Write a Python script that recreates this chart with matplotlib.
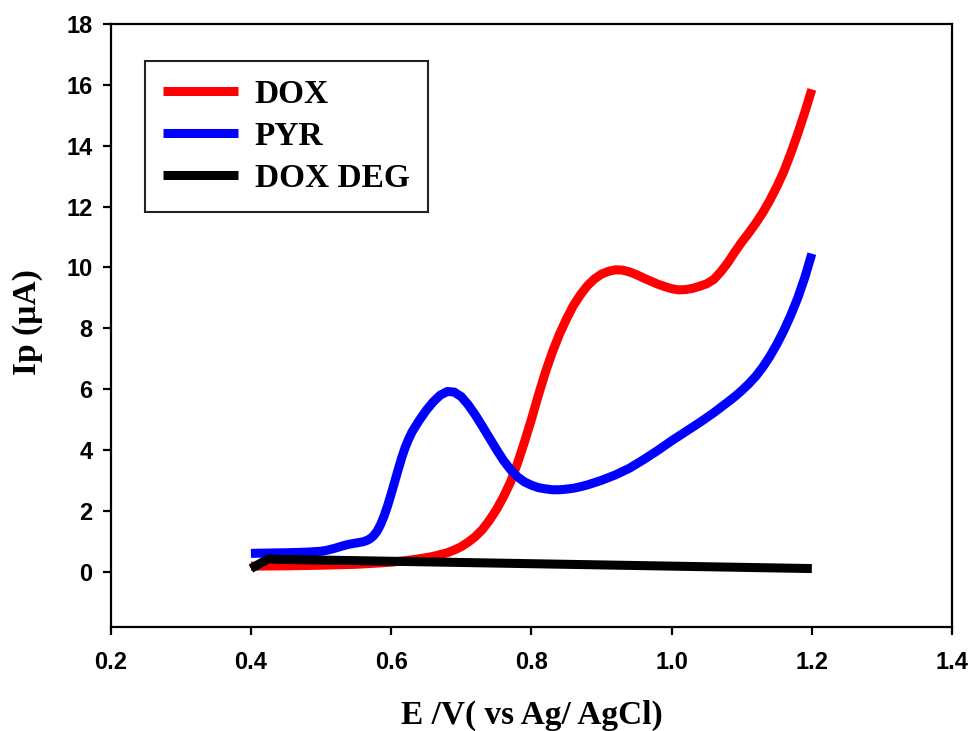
import matplotlib
matplotlib.use("Agg")
from matplotlib import pyplot as plt

# DOX oxidation curve
dox_E = [0.40, 0.45, 0.50, 0.55, 0.58, 0.60, 0.62, 0.64, 0.66, 0.68, 0.69, 0.70,
         0.71, 0.72, 0.73, 0.74, 0.75, 0.76, 0.77, 0.78, 0.79, 0.80, 0.81, 0.82,
         0.83, 0.84, 0.85, 0.86, 0.87, 0.88, 0.89, 0.90, 0.91, 0.92, 0.93, 0.94,
         0.95, 0.96, 0.97, 0.98, 0.99, 1.00, 1.01, 1.02, 1.03, 1.04, 1.05, 1.06,
         1.07, 1.08, 1.09, 1.10, 1.11, 1.12, 1.13, 1.14, 1.15, 1.16, 1.17, 1.18,
         1.19, 1.20]
dox_I = [0.18, 0.19, 0.21, 0.24, 0.28, 0.31, 0.36, 0.42, 0.50, 0.62, 0.71, 0.82,
         0.97, 1.15, 1.38, 1.68, 2.03, 2.45, 2.93, 3.55, 4.25, 5.00, 5.80, 6.55,
         7.22, 7.80, 8.30, 8.75, 9.10, 9.40, 9.62, 9.78, 9.87, 9.92, 9.91, 9.85,
         9.76, 9.65, 9.55, 9.45, 9.37, 9.30, 9.26, 9.27, 9.31, 9.38, 9.46, 9.60,
         9.85, 10.15, 10.50, 10.83, 11.13, 11.45, 11.80, 12.20, 12.65, 13.15, 13.75, 14.40,
         15.10, 15.85]

# PYR curve
pyr_E = [0.40, 0.45, 0.48, 0.50, 0.51, 0.52, 0.53, 0.54, 0.55, 0.56, 0.565, 0.57,
         0.575, 0.58, 0.585, 0.59, 0.595, 0.60, 0.605, 0.61, 0.615, 0.62, 0.625, 0.63,
         0.64, 0.65, 0.66, 0.67, 0.68, 0.69, 0.70, 0.71, 0.72, 0.73, 0.74, 0.75,
         0.76, 0.77, 0.78, 0.79, 0.80, 0.81, 0.82, 0.83, 0.84, 0.85, 0.86, 0.87,
         0.88, 0.90, 0.92, 0.94, 0.96, 0.98, 1.00, 1.02, 1.04, 1.06, 1.08, 1.09,
         1.10, 1.11, 1.12, 1.13, 1.14, 1.15, 1.16, 1.17, 1.18, 1.19, 1.20]
pyr_I = [0.60, 0.62, 0.64, 0.67, 0.71, 0.77, 0.84, 0.90, 0.94, 0.98, 1.02, 1.08,
         1.18, 1.33, 1.55, 1.83, 2.17, 2.55, 2.95, 3.35, 3.74, 4.08, 4.36, 4.60,
         4.97, 5.30, 5.58, 5.80, 5.92, 5.90, 5.75, 5.48, 5.15, 4.78, 4.40, 4.02,
         3.66, 3.36, 3.12, 2.95, 2.84, 2.76, 2.72, 2.69, 2.69, 2.71, 2.74, 2.79,
         2.85, 3.00, 3.18, 3.40, 3.68, 3.98, 4.30, 4.60, 4.90, 5.22, 5.57, 5.75,
         5.95, 6.17, 6.42, 6.72, 7.07, 7.47, 7.92, 8.43, 9.00, 9.67, 10.45]

# degraded DOX
deg_E = [0.400, 0.425, 0.44, 0.50, 0.60, 0.70, 0.80, 0.90, 1.00, 1.10, 1.20]
deg_I = [0.10, 0.42, 0.40, 0.38, 0.34, 0.30, 0.26, 0.22, 0.18, 0.14, 0.10]

x_ticks = [0.2, 0.4, 0.6, 0.8, 1.0, 1.2, 1.4]
y_ticks = [0, 2, 4, 6, 8, 10, 12, 14, 16, 18]

serif_bold = {'family': 'Liberation Serif', 'weight': 'bold'}

fig = plt.figure(figsize=(9.71, 7.31), dpi=100)
fig.patch.set_facecolor('white')
ax = fig.add_axes([0.114, 0.1423, 0.8665, 0.8249])

lw = 6.5
style = dict(linewidth=lw, solid_capstyle='butt', solid_joinstyle='round')
ax.plot(dox_E, dox_I, color='#ff0000', label='DOX', **style)
ax.plot(pyr_E, pyr_I, color='#0000ff', label='PYR', **style)
ax.plot(deg_E, deg_I, color='black', label='DOX DEG', **style)

ax.set_xlim(0.2, 1.4)
ax.set_ylim(-1.82, 18)
ax.set_xticks(x_ticks)
ax.set_xticklabels(['%.1f' % v for v in x_ticks])
ax.set_yticks(y_ticks)
ax.set_yticklabels([str(v) for v in y_ticks])

for sp in ax.spines.values():
    sp.set_linewidth(1.6)
ax.tick_params(direction='out', length=6, width=1.6, top=False, right=False)
ax.tick_params(axis='x', pad=11)
ax.tick_params(axis='y', pad=7)
for lab in ax.get_xticklabels() + ax.get_yticklabels():
    lab.set_fontfamily('Liberation Sans')
    lab.set_fontweight('bold')
    lab.set_fontsize(17)

ax.set_xlabel('E /V( vs Ag/ AgCl)', fontdict=serif_bold, fontsize=24)
ax.xaxis.label.set_verticalalignment('baseline')
ax.xaxis.set_label_coords(0.5, -0.161)
ax.set_ylabel('Ip (µA)', fontdict=serif_bold, fontsize=24)
ax.yaxis.label.set_verticalalignment('center')
ax.yaxis.set_label_coords(-0.099, 0.505)

leg = ax.legend(loc='upper left', bbox_to_anchor=(0.0404, 0.9391), borderaxespad=0,
                prop={'family': 'Liberation Serif', 'weight': 'bold', 'size': 24},
                handlelength=2.25, handletextpad=0.5, labelspacing=0.33,
                borderpad=0.55, fancybox=False, framealpha=1)
leg.get_frame().set_edgecolor('#222222')
leg.get_frame().set_linewidth(1.5)

fig.savefig('out.png', dpi=100)
